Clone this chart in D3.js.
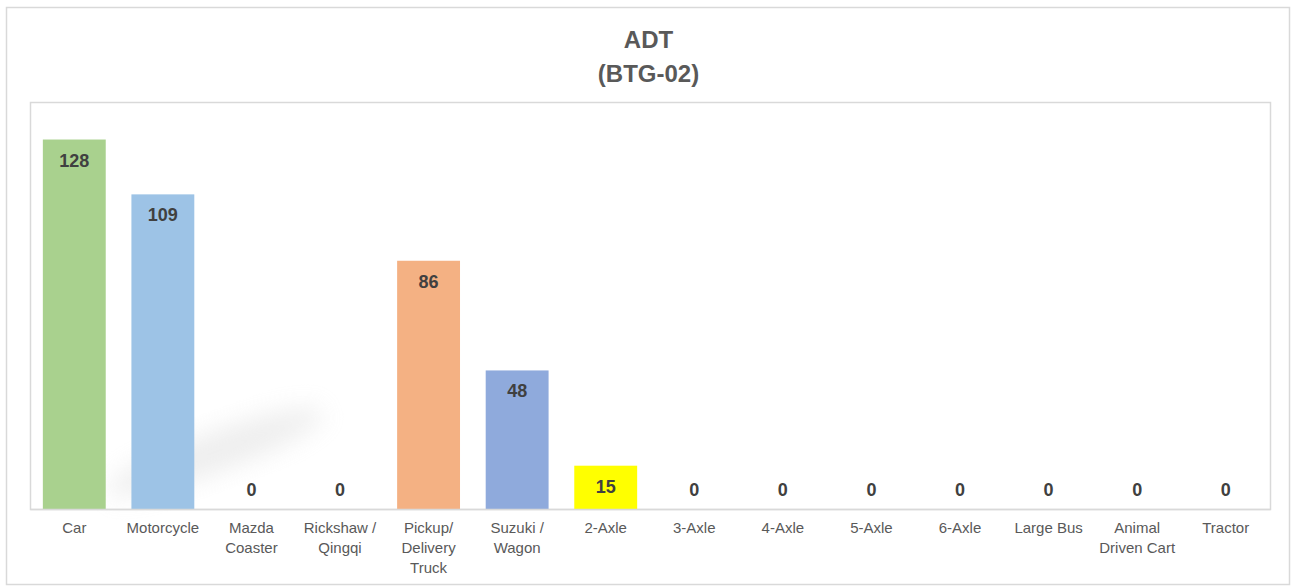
<!DOCTYPE html>
<html>
<head>
<meta charset="utf-8">
<script src="https://cdn.jsdelivr.net/npm/d3@7"></script>
<style>
  html, body { margin: 0; padding: 0; background: #fff; }
  svg { display: block; font-family: "Liberation Sans", Arial, sans-serif; }
</style>
</head>
<body>
<div id="chart"></div>
<script>
// data
const categories = ['Car', 'Motorcycle', 'Mazda\nCoaster', 'Rickshaw /\nQingqi', 'Pickup/\nDelivery\nTruck',
  'Suzuki /\nWagon', '2-Axle', '3-Axle', '4-Axle', '5-Axle', '6-Axle', 'Large Bus', 'Animal\nDriven Cart', 'Tractor'];
const adt = [128, 109, 0, 0, 86, 48, 15, 0, 0, 0, 0, 0, 0, 0];
const barColors = ['#a9d18e', '#9dc3e6', '#c9c9c9', '#c9c9c9', '#f4b183', '#8faadc', '#ffff00',
  '#c9c9c9', '#c9c9c9', '#c9c9c9', '#c9c9c9', '#c9c9c9', '#c9c9c9', '#c9c9c9'];
const titleLines = ['ADT', '(BTG-02)'];

const width = 1297, height = 588;
const plot = { left: 30, top: 102, right: 1270, bottom: 509 };

const svg = d3.select('#chart').append('svg')
  .attr('width', width)
  .attr('height', height);

// blur used for the soft shadow smudge behind the bars
const defs = svg.append('defs');
defs.append('filter').attr('id', 'smudge')
  .attr('x', '-50%').attr('y', '-50%').attr('width', '200%').attr('height', '200%')
  .append('feGaussianBlur').attr('stdDeviation', 12);

// outer frame
svg.append('rect')
  .attr('x', 6.5).attr('y', 7.5)
  .attr('width', 1283).attr('height', 577)
  .attr('fill', '#fff')
  .attr('stroke', '#d9d9d9')
  .attr('stroke-width', 1.5);

// title
svg.append('g').selectAll('text')
  .data(titleLines)
  .enter()
  .append('text')
  .attr('x', width / 2)
  .attr('y', (d, i) => 48 + i * 34)
  .attr('text-anchor', 'middle')
  .attr('font-size', 24)
  .attr('font-weight', 'bold')
  .attr('fill', '#595959')
  .text(d => d);

const x = d3.scaleBand()
  .domain(categories)
  .range([plot.left, plot.right])
  .paddingInner(0.29)
  .paddingOuter(0.145);

const y = d3.scaleLinear()
  .domain([0, 141])
  .range([plot.bottom, plot.top]);

// plot area border
svg.append('rect')
  .attr('x', plot.left + 0.5).attr('y', plot.top + 0.5)
  .attr('width', plot.right - plot.left).attr('height', plot.bottom - plot.top)
  .attr('fill', 'none')
  .attr('stroke', '#d9d9d9')
  .attr('stroke-width', 1.5);

svg.append('ellipse')
  .attr('cx', 215).attr('cy', 452)
  .attr('rx', 115).attr('ry', 20)
  .attr('transform', 'rotate(-20 215 452)')
  .attr('fill', '#c8c8c8')
  .attr('opacity', 0.3)
  .attr('filter', 'url(#smudge)');

// bars
svg.append('g').selectAll('rect')
  .data(adt)
  .enter()
  .append('rect')
  .attr('x', (d, i) => x(categories[i]))
  .attr('y', d => y(d))
  .attr('width', x.bandwidth())
  .attr('height', d => y(0) - y(d))
  .attr('fill', (d, i) => barColors[i]);

// x axis
const xAxis = svg.append('g')
  .attr('transform', 'translate(0,' + plot.bottom + ')')
  .call(d3.axisBottom(x).tickSize(0).tickFormat(''));
xAxis.select('.domain').attr('stroke', '#d9d9d9').attr('stroke-width', 1.5);

xAxis.selectAll('.tick').each(function (d) {
  const t = d3.select(this).append('text')
    .attr('fill', '#595959')
    .attr('font-size', 15)
    .attr('text-anchor', 'middle');
  d.split('\n').forEach((line, k) => {
    t.append('tspan')
      .attr('x', 0)
      .attr('y', 24 + k * 20)
      .text(line);
  });
});

// value labels
svg.append('g').selectAll('text')
  .data(adt)
  .enter()
  .append('text')
  .attr('x', (d, i) => x(categories[i]) + x.bandwidth() / 2)
  .attr('y', d => d > 0 ? y(d) + 27 : y(0) - 13)
  .attr('text-anchor', 'middle')
  .attr('font-size', 18)
  .attr('font-weight', 'bold')
  .attr('fill', '#404040')
  .text(d => d);
</script>
</body>
</html>
